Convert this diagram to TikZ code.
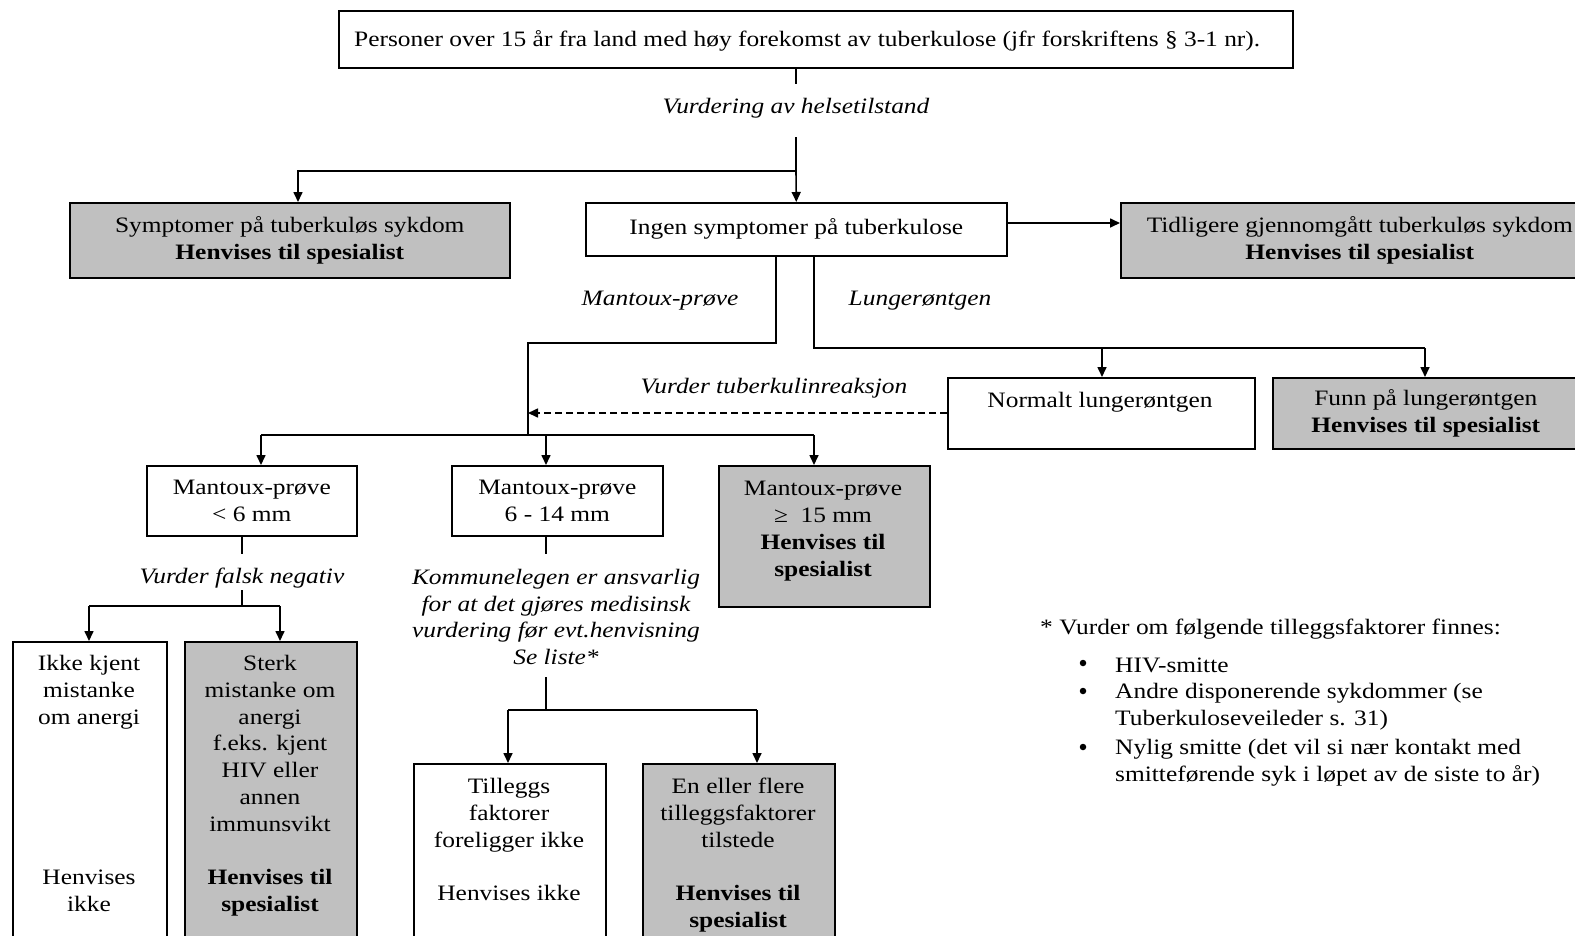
\documentclass[tikz,border=0pt]{standalone}
\usepackage{fontspec}
\setmainfont[FakeStretch=1.155]{Liberation Serif}
\usetikzlibrary{arrows.meta}
\definecolor{boxgray}{RGB}{192,192,192}
\newcommand{\fs}{\fontsize{22}{26.8}\selectfont}
\tikzset{
  base/.style={draw, line width=1.6pt, inner sep=0pt, align=center, font=\fs, anchor=north west},
  wbox/.style={base, fill=white},
  gbox/.style={base, fill=boxgray},
  lab/.style={font=\fs\itshape, inner sep=0pt, align=center},
  txt/.style={font=\fs, inner sep=0pt, align=center},
  ltxt/.style={font=\fs, inner sep=0pt, align=left, anchor=west},
  dot/.style={circle, fill=black, inner sep=0pt, minimum size=6.5pt},
  ln/.style={line width=1.6pt},
  arr/.style={line width=1.6pt, -{Triangle[length=10pt,width=9pt]}},
}
\begin{document}
\begin{tikzpicture}[x=1pt,y=-1pt]
\useasboundingbox (0,0) rectangle (1575,935);
\fill[white] (0,0) rectangle (1575,935);
\clip (0,0) rectangle (1575,935);

% boxes
\node[wbox, minimum width=954pt, minimum height=57pt] (top) at (338,10) {};
\node[ltxt] (topt) at (354,41)
  {Personer over 15 år fra land med høy forekomst av tuberkulose (jfr forskriftens § 3-1 nr).};
\node[gbox, minimum width=440pt, minimum height=75pt] (sympt) at (69,202)
  {Symptomer på tuberkuløs sykdom\\\textbf{Henvises til spesialist}};
\node[wbox, minimum width=421pt, minimum height=53pt] (ingen) at (585,202)
  {Ingen symptomer på tuberkulose};
\node[gbox, minimum width=478pt, minimum height=75pt] (tidl) at (1120,202)
  {Tidligere gjennomgått tuberkuløs sykdom\\\textbf{Henvises til spesialist}};
\node[wbox, minimum width=307pt, minimum height=71pt] (norm) at (947,377) {};
\node[txt, anchor=north] (normt) at (1100,392) {Normalt lungerøntgen};
\node[gbox, minimum width=306pt, minimum height=71pt] (funn) at (1272,377)
  {Funn på lungerøntgen\\\textbf{Henvises til spesialist}};
\node[wbox, minimum width=210pt, minimum height=70pt] (m6) at (146,465)
  {Mantoux-prøve\\< 6 mm};
\node[wbox, minimum width=211pt, minimum height=70pt] (m614) at (451,465)
  {Mantoux-prøve\\6 - 14 mm};
\node[gbox, minimum width=211pt, minimum height=141pt] (m15) at (718,465) {};
\node[txt, anchor=north] (m15t) at (823,481)
  {Mantoux-prøve\\≥\ \ 15 mm\\\textbf{Henvises til}\\\textbf{spesialist}};
\node[wbox, minimum width=154pt, minimum height=310pt] (ikke) at (12,641) {};
\node[txt, anchor=north] (ikket) at (89,655)
  {Ikke kjent\\mistanke\\om anergi\\[134pt]Henvises\\ikke};
\node[gbox, minimum width=172pt, minimum height=310pt] (sterk) at (184,641) {};
\node[txt, anchor=north] (sterkt) at (270,655)
  {Sterk\\mistanke om\\anergi\\f.eks. kjent\\HIV eller\\annen\\immunsvikt\\[26.8pt]\textbf{Henvises til}\\\textbf{spesialist}};
\node[wbox, minimum width=192pt, minimum height=190pt] (till) at (413,763) {};
\node[txt, anchor=north] (tillt) at (509,778)
  {Tilleggs\\faktorer\\foreligger ikke\\[26.8pt]Henvises ikke};
\node[gbox, minimum width=192pt, minimum height=190pt] (enell) at (642,763) {};
\node[txt, anchor=north] (enellt) at (738,778)
  {En eller flere\\tilleggsfaktorer\\tilstede\\[26.8pt]\textbf{Henvises til}\\\textbf{spesialist}};

% labels
\node[lab] (l1) at (796,108) {Vurdering av helsetilstand};
\node[lab] (lm) at (660,301) {Mantoux-prøve};
\node[lab] (lr) at (920,301) {Lungerøntgen};
\node[lab] (lv) at (774,388) {Vurder tuberkulinreaksjon};
\node[lab] (lf) at (242,578) {Vurder falsk negativ};
\node[lab] (lk) at (556,617)
  {Kommunelegen er ansvarlig\\for at det gjøres medisinsk\\vurdering før evt.henvisning\\Se liste*};

% note
\node[ltxt] (note) at (1040,629) {* Vurder om følgende tilleggsfaktorer finnes:};
\node[dot] (b1) at (1083,663) {};
\node[dot] (b2) at (1083,691) {};
\node[dot] (b3) at (1083,747) {};
\node[ltxt] (i1) at (1115,665) {HIV-smitte};
\node[ltxt] (i2) at (1115,706.5) {Andre disponerende sykdommer (se\\Tuberkuloseveileder s. 31)};
\node[ltxt] (i3) at (1115,762.5) {Nylig smitte (det vil si nær kontakt med\\smitteførende syk i løpet av de siste to år)};

% coordinates
\coordinate (c1) at (796,84);
\coordinate (c2) at (796,137);
\coordinate (c3) at (796,171);
\coordinate (c4) at (298,171);
\coordinate (c5) at (1006,223);
\coordinate (m1) at (776,343);
\coordinate (m2) at (528,343);
\coordinate (m3) at (528,435);
\coordinate (r1) at (814,348);
\coordinate (r2) at (1102,348);
\coordinate (r3) at (1425,348);
\coordinate (d1) at (947,413);
\coordinate (h1) at (261,435);
\coordinate (h2) at (546,435);
\coordinate (h3) at (814,435);
\coordinate (f1) at (242,554);
\coordinate (f2) at (242,590);
\coordinate (f3) at (242,606);
\coordinate (f4) at (89,606);
\coordinate (f5) at (280,606);
\coordinate (k1) at (546,554);
\coordinate (k2) at (546,677);
\coordinate (k3) at (546,710);
\coordinate (k4) at (508,710);
\coordinate (k5) at (757,710);

% connectors
\draw[ln] (c1 |- top.south) -- (c1);
\draw[ln] (c2) -- (c3);
\draw[arr] (c3) -- (ingen.north);
\draw[arr] (c3) -- (c4) -- (c4 |- sympt.north);
\draw[arr] (c5) -- (c5 -| tidl.west);
\draw[ln] (m1 |- ingen.south) -- (m1) -- (m2) -- (m3);
\draw[ln] (r1 |- ingen.south) -- (r1) -- (r3);
\draw[arr] (r2) -- (r2 |- norm.north);
\draw[arr] (r3) -- (r3 |- funn.north);
\draw[arr, dash pattern=on 7pt off 4pt] (d1) -- (d1 -| m3);
\draw[ln] (h1) -- (h3);
\draw[arr] (h1) -- (h1 |- m6.north);
\draw[arr] (h2) -- (h2 |- m614.north);
\draw[arr] (h3) -- (h3 |- m15.north);
\draw[ln] (f1 |- m6.south) -- (f1);
\draw[ln] (f2) -- (f3);
\draw[ln] (f4) -- (f5);
\draw[arr] (f4) -- (f4 |- ikke.north);
\draw[arr] (f5) -- (f5 |- sterk.north);
\draw[ln] (k1 |- m614.south) -- (k1);
\draw[ln] (k2) -- (k3);
\draw[ln] (k4) -- (k5);
\draw[arr] (k4) -- (k4 |- till.north);
\draw[arr] (k5) -- (k5 |- enell.north);
\end{tikzpicture}
\end{document}
